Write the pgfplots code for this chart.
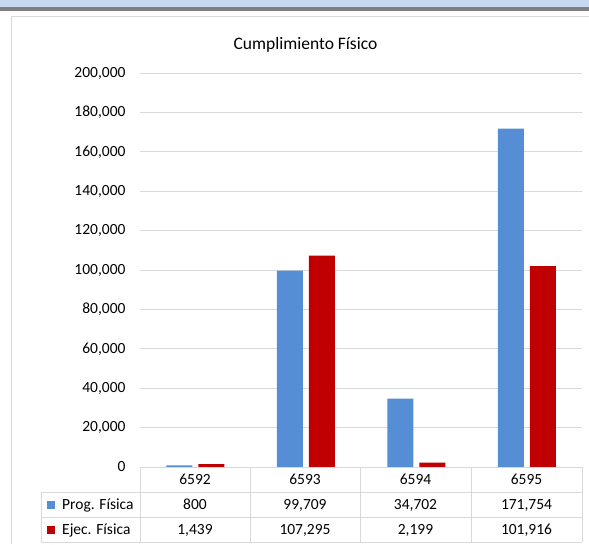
\documentclass[border=0pt]{standalone}
\usepackage{pgfplots}
\pgfplotsset{compat=1.18}
\usepackage{fontspec}
\setmainfont{Carlito}
\definecolor{progblue}{HTML}{558ED5}
\definecolor{ejecred}{HTML}{C00000}
\definecolor{gridgray}{HTML}{D9D9D9}
\definecolor{bandblue}{HTML}{C6D9F1}
\definecolor{bandgray}{HTML}{7F7F7F}
\newcommand{\tfont}{\fontsize{15.5}{18}\selectfont}
\begin{document}
\begin{tikzpicture}
\path[use as bounding box] (0,0) rectangle (589pt,-544pt);
\fill[bandblue] (0,0) rectangle (589pt,-7pt);
\fill[bandgray] (0,-7pt) rectangle (589pt,-10.5pt);
\draw[gridgray, line width=1pt] (11pt,-544pt) -- (11pt,-16pt) -- (589pt,-16pt);
\node[font=\fontsize{17.5}{20}\selectfont, anchor=base] at (305.5pt,-49pt) {Cumplimiento Físico};
\begin{axis}[
  at={(140pt,-467pt)}, anchor=south west,
  scale only axis, width=442pt, height=394pt,
  xmin=-0.5, xmax=3.5, ymin=0, ymax=200000,
  ytick={0,20000,40000,60000,80000,100000,120000,140000,160000,180000,200000},
  xtick=\empty,
  ymajorgrids, grid style={gridgray, line width=1pt},
  axis line style={draw=none},
  major tick length=0pt,
  scaled y ticks=false,
  yticklabel style={font=\tfont, /pgf/number format/fixed, /pgf/number format/1000 sep={,}, /pgf/number format/assume math mode=true, anchor=east, xshift=-11pt},
  ybar=6pt, bar width=26pt,
]
\addplot[fill=progblue, draw=none] coordinates {(0,800) (1,99709) (2,34702) (3,171754)};
\addplot[fill=ejecred, draw=none] coordinates {(0,1439) (1,107295) (2,2199) (3,101916)};
\end{axis}
% data table
\begin{scope}[gridgray, line width=1pt]
\draw (140pt,-467pt) -- (582pt,-467pt);
\draw (41pt,-492pt) -- (582pt,-492pt);
\draw (41pt,-517pt) -- (582pt,-517pt);
\draw (41pt,-542pt) -- (582pt,-542pt);
\draw (41pt,-492pt) -- (41pt,-542pt);
\foreach \x in {140,250,360,471,582} \draw (\x pt,-467pt) -- (\x pt,-542pt);
\end{scope}
\begin{scope}[every node/.style={font=\tfont, anchor=base, inner sep=0pt}]
\node at (195pt,-484.5pt) {6592};
\node at (305pt,-484.5pt) {6593};
\node at (415.5pt,-484.5pt) {6594};
\node at (526.5pt,-484.5pt) {6595};
\node at (195pt,-509.5pt) {800};
\node at (305pt,-509.5pt) {99,709};
\node at (415.5pt,-509.5pt) {34,702};
\node at (526.5pt,-509.5pt) {171,754};
\node at (195pt,-534.5pt) {1,439};
\node at (305pt,-534.5pt) {107,295};
\node at (415.5pt,-534.5pt) {2,199};
\node at (526.5pt,-534.5pt) {101,916};
\node[anchor=base west] at (62pt,-509.5pt) {Prog. Física};
\node[anchor=base west] at (62pt,-534.5pt) {Ejec. Física};
\end{scope}
\fill[progblue] (47pt,-500.5pt) rectangle (55pt,-508.5pt);
\fill[ejecred] (47pt,-525.5pt) rectangle (55pt,-533.5pt);
\end{tikzpicture}
\end{document}
